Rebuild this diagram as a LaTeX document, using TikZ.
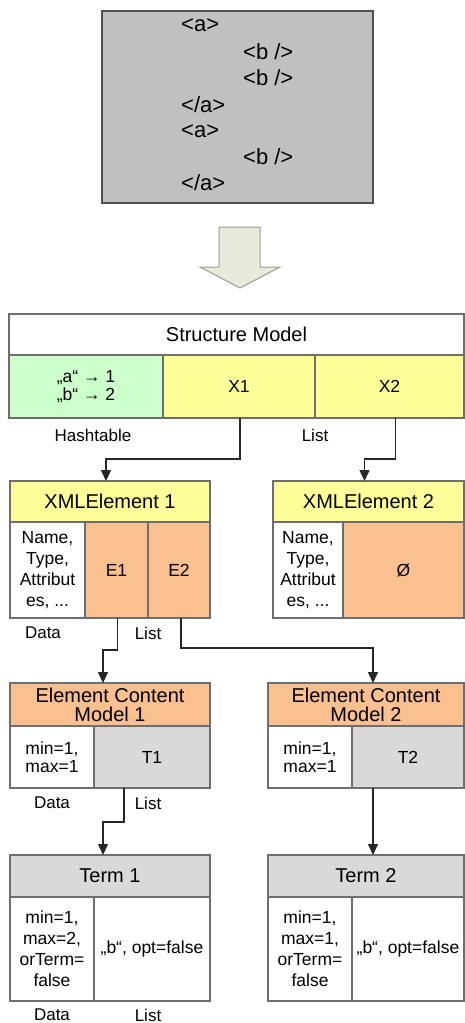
\documentclass[tikz,border=0pt]{standalone}
\usepackage{fontspec}
\setmainfont{Liberation Sans}
\usetikzlibrary{arrows.meta}
\definecolor{bordc}{HTML}{6E6E6E}
\definecolor{srcgray}{HTML}{C0C0C0}
\definecolor{srcbord}{HTML}{505050}
\definecolor{hgreen}{HTML}{CCFFCC}
\definecolor{hyellow}{HTML}{FFFF99}
\definecolor{horange}{HTML}{FAC08F}
\definecolor{hgray}{HTML}{D9D9D9}
\definecolor{arrfill}{HTML}{E8EADB}
\definecolor{arrbord}{HTML}{9C9E8C}
\begin{document}
\begin{tikzpicture}[x=1pt,y=-1pt,
  cell/.style={draw=bordc, line width=1.3pt, rectangle, inner sep=1pt, outer sep=0pt,
    align=center, anchor=north west, font=\fontsize{17.5}{21}\selectfont},
  ttl/.style={cell, font=\fontsize{20}{22}\selectfont},
  lbl/.style={font=\fontsize{17}{20}\selectfont, inner sep=0pt},
  src/.style={font=\fontsize{22}{24}\selectfont, inner sep=0pt, anchor=west},
  conn/.style={draw=black!85, line width=1.4pt, -{Triangle[length=11pt,width=10pt]}}]
\useasboundingbox (0,0) rectangle (465,1023);

% source XML box
\node[draw=srcbord, line width=1.8pt, fill=srcgray, minimum width=271pt, minimum height=192pt,
  anchor=north west, inner sep=0pt] (xmlsrc) at (101,10) {};
\node[src] (l1) at (181,25) {<a>};
\node[src] (l2) at (243,52) {<b />};
\node[src] (l3) at (243,78) {<b />};
\node[src] (l4) at (181,105) {</a>};
\node[src] (l5) at (181,131) {<a>};
\node[src] (l6) at (243,157) {<b />};
\node[src] (l7) at (181,183) {</a>};

% hollow arrow
\draw[draw=arrbord, fill=arrfill, line width=1pt, line join=miter]
  (219,227) -- (260,227) -- (260,267) -- (280,267) -- (240,288) -- (200,267) -- (219,267) -- cycle;

% Structure Model
\node[ttl, fill=white, minimum width=455pt, minimum height=41pt] (smt) at (9,314) {Structure Model};
\node[cell, fill=hgreen, minimum width=154pt, minimum height=63pt] (hash) at (9,355) {„a“ → 1\\[-3pt]„b“ → 2};
\node[cell, fill=hyellow, minimum width=152pt, minimum height=63pt] (X1) at (163,355) {X1};
\node[cell, fill=hyellow, minimum width=149pt, minimum height=63pt] (X2) at (315,355) {X2};
\node[lbl] (hashlbl) at (93,435) {Hashtable};
\node[lbl] (smlist) at (315,435) {List};

% XMLElement 1
\node[ttl, fill=hyellow, minimum width=200pt, minimum height=41pt] (xe1t) at (10,481) {XMLElement 1};
\node[cell, fill=white, minimum width=75pt, minimum height=96pt] (xe1d) at (10,522) {Name,\\Type,\\Attribut\\es, ...};
\node[cell, fill=horange, minimum width=63pt, minimum height=96pt] (E1) at (85,522) {E1};
\node[cell, fill=horange, minimum width=62pt, minimum height=96pt] (E2) at (148,522) {E2};
\node[lbl] (xe1data) at (43,633) {Data};
\node[lbl] (xe1list) at (148,633) {List};

% XMLElement 2
\node[ttl, fill=hyellow, minimum width=191pt, minimum height=41pt] (xe2t) at (273,481) {XMLElement 2};
\node[cell, fill=white, minimum width=70pt, minimum height=96pt] (xe2d) at (273,522) {Name,\\Type,\\Attribut\\es, ...};
\node[cell, fill=horange, minimum width=121pt, minimum height=96pt] (empty) at (343,522) {Ø};

% Element Content Model 1
\node[ttl, fill=horange, minimum width=200pt, minimum height=43pt] (ecm1t) at (10,683) {Element Content\\[-3pt]Model 1};
\node[cell, fill=white, minimum width=84pt, minimum height=62pt] (ecm1d) at (10,726) {min=1,\\[-3pt]max=1};
\node[cell, fill=hgray, minimum width=116pt, minimum height=62pt] (T1) at (94,726) {T1};
\node[lbl] (ecm1data) at (52,803) {Data};
\node[lbl] (ecm1list) at (148,803) {List};

% Element Content Model 2
\node[ttl, fill=horange, minimum width=196pt, minimum height=43pt] (ecm2t) at (268,683) {Element Content\\[-3pt]Model 2};
\node[cell, fill=white, minimum width=84pt, minimum height=62pt] (ecm2d) at (268,726) {min=1,\\[-3pt]max=1};
\node[cell, fill=hgray, minimum width=112pt, minimum height=62pt] (T2) at (352,726) {T2};

% Term 1
\node[ttl, fill=hgray, minimum width=200pt, minimum height=42pt] (tm1t) at (10,855) {Term 1};
\node[cell, fill=white, minimum width=84pt, minimum height=104pt] (tm1d) at (10,897) {min=1,\\max=2,\\orTerm=\\false};
\node[cell, fill=white, minimum width=116pt, minimum height=104pt] (tm1l) at (94,897) {„b“, opt=false};
\node[lbl] (tm1data) at (52,1015) {Data};
\node[lbl] (tm1list) at (148,1015) {List};

% Term 2
\node[ttl, fill=hgray, minimum width=196pt, minimum height=42pt] (tm2t) at (268,855) {Term 2};
\node[cell, fill=white, minimum width=84pt, minimum height=104pt] (tm2d) at (268,897) {min=1,\\max=1,\\orTerm=\\false};
\node[cell, fill=white, minimum width=112pt, minimum height=104pt] (tm2l) at (352,897) {„b“, opt=false};

% connectors
\draw[conn] ([xshift=1pt]X1.south) -- ++(0,41) -| ([xshift=-4pt]xe1t.north);
\draw[conn] ([xshift=6pt]X2.south) -- ++(0,41) -| ([xshift=-4pt]xe2t.north);
\draw[conn] ([xshift=1pt]E1.south) -- ++(0,32) -| ([xshift=-7pt]ecm1t.north);
\draw[conn] ([xshift=2pt]E2.south) -- ++(0,30) -| ([xshift=7pt]ecm2t.north);
\draw[conn] ([xshift=-28pt]T1.south) -- ++(0,34) -| ([xshift=-7pt]tm1t.north);
\draw[conn] ([xshift=7pt]tm2t.north |- T2.south) -- ([xshift=7pt]tm2t.north);
\end{tikzpicture}
\end{document}
